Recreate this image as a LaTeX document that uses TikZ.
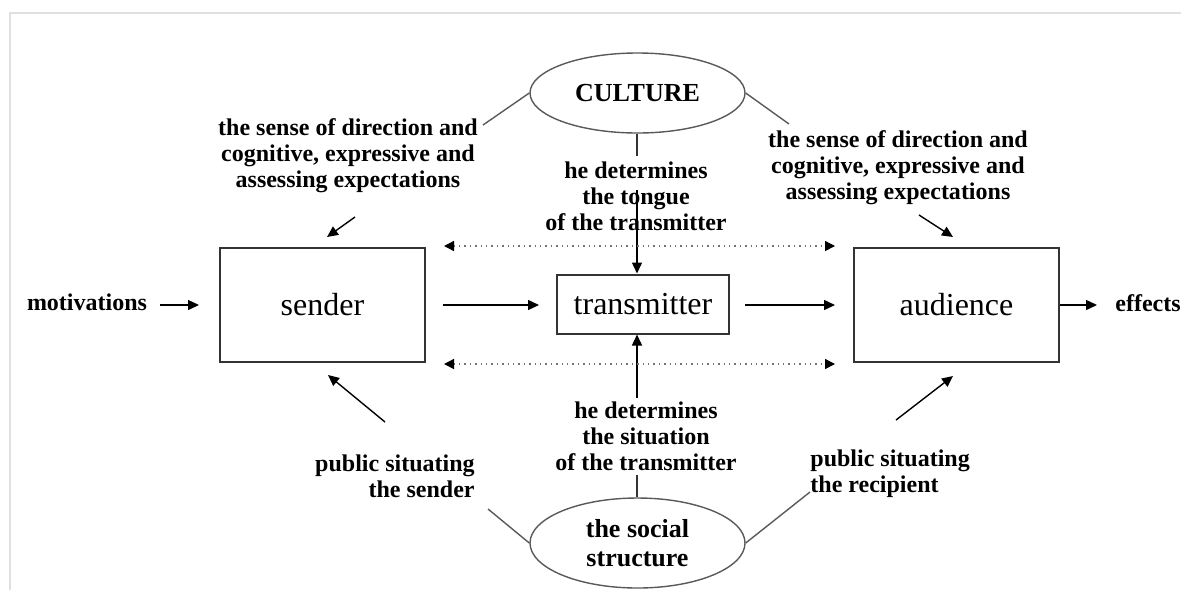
\documentclass[tikz,border=0pt]{standalone}
\usepackage{fontspec}
\setmainfont{Liberation Serif}
\usetikzlibrary{shapes.geometric,arrows.meta}

\begin{document}
\begin{tikzpicture}[x=0.5pt,y=-0.5pt,
  lbl/.style={font=\fontsize{12}{13}\selectfont\bfseries,align=center,inner sep=0pt},
  box/.style={draw=black!80,line width=1pt,inner sep=0pt,font=\fontsize{16}{19}\selectfont},
  blob/.style={ellipse,draw=black!65,line width=0.7pt,inner sep=0pt,align=center,font=\fontsize{13}{14.5}\selectfont\bfseries},
  arr/.style={-{Triangle[length=5.5pt,width=5pt]},line width=0.7pt},
  dotarr/.style={{Triangle[length=5pt,width=5pt,color=black]}-{Triangle[length=5pt,width=5pt,color=black]},draw=black!55,dotted,line width=0.7pt}]
\useasboundingbox (0,0) rectangle (1181,590);
% the light frame
\draw[black!12,line width=1pt] (10,590) -- (10,13) -- (1181,13);
% the three boxes
\node[box,minimum width=102.5pt,minimum height=57pt] (sender) at (322.5,305) {sender};
\node[box,minimum width=86pt,minimum height=29.5pt] (trans) at (643,304) {transmitter};
\node[box,minimum width=102.5pt,minimum height=57pt] (aud) at (956.5,305) {audience};
% the two ellipses
\node[blob,minimum width=107.5pt,minimum height=40pt] (culture) at (637.5,93) {CULTURE};
\node[blob,minimum width=107.5pt,minimum height=45pt] (social) at (637.5,543) {the social\\structure};
% the labels
\node[lbl] (motiv) at (87,302) {motivations};
\node[lbl,anchor=west] (effects) at (1115,303) {effects};
\node[lbl] (expl) at (348,156) {the sense of direction and\\cognitive, expressive and\\assessing expectations};
\node[lbl] (expr) at (898,168) {the sense of direction and\\cognitive, expressive and\\assessing expectations};
\node[lbl] (tongue) at (636,196) {he determines\\the tongue\\of the transmitter};
\node[lbl] (situ) at (646,436) {he determines\\the situation\\of the transmitter};
\node[lbl,align=right,anchor=east] (pubs) at (475,476) {public situating\\the sender};
\node[lbl,align=left,anchor=west] (pubr) at (810,474) {public situating\\the recipient};
% free ends
\coordinate (cl) at (483,125);
\coordinate (cr) at (789,124);
\coordinate (sl) at (488,509);
\coordinate (sr) at (810,492);
\coordinate (tg1) at (637,156);
\coordinate (tg2) at (637,190);
\coordinate (st1) at (637,398);
\coordinate (st2) at (637,475);
\coordinate (exl1) at (355,217);
\coordinate (exl2) at (327,237);
\coordinate (exr1) at (919,215);
\coordinate (exr2) at (953,237);
\coordinate (pbl1) at (385,422);
\coordinate (pbl2) at (328,375);
\coordinate (pbr1) at (896,420);
\coordinate (pbr2) at (953,376);
% the ellipse lines
\draw[black!65,line width=0.7pt] (culture.west) -- (cl);
\draw[black!65,line width=0.7pt] (culture.east) -- (cr);
\draw[black!65,line width=0.7pt] (social.west) -- (sl);
\draw[black!65,line width=0.7pt] (social.east) -- (sr);
\draw[black!80,line width=0.7pt] (culture.south -| tg1) -- (tg1);
\draw[black!80,line width=0.7pt] (st2) -- (social.north -| st2);
% the arrows
\draw[arr] (tg2) -- (tg2 |- trans.north);
\draw[arr] (st1) -- (st1 |- trans.south);
\draw[arr] ([xshift=6.5pt]motiv.east |- sender.west) -- ([xshift=-10pt]sender.west);
\draw[arr] ([xshift=8.5pt]sender.east) -- ([xshift=-8.5pt]trans.west |- sender.east);
\draw[arr] ([xshift=7.5pt]trans.east |- aud.west) -- ([xshift=-9pt]aud.west);
\draw[arr] (aud.east) -- ([xshift=-9pt]effects.west |- aud.east);
\draw[arr] (exl1) -- (exl2);
\draw[arr] (exr1) -- (exr2);
\draw[arr] (pbl1) -- (pbl2);
\draw[arr] (pbr1) -- (pbr2);
% the dotted arrows
\draw[dotarr] ([xshift=9pt,yshift=0.5pt]sender.north east) -- ([xshift=-9pt,yshift=0.5pt]aud.north west);
\draw[dotarr] ([xshift=9pt,yshift=-0.5pt]sender.south east) -- ([xshift=-9pt,yshift=-0.5pt]aud.south west);
\end{tikzpicture}
\end{document}
